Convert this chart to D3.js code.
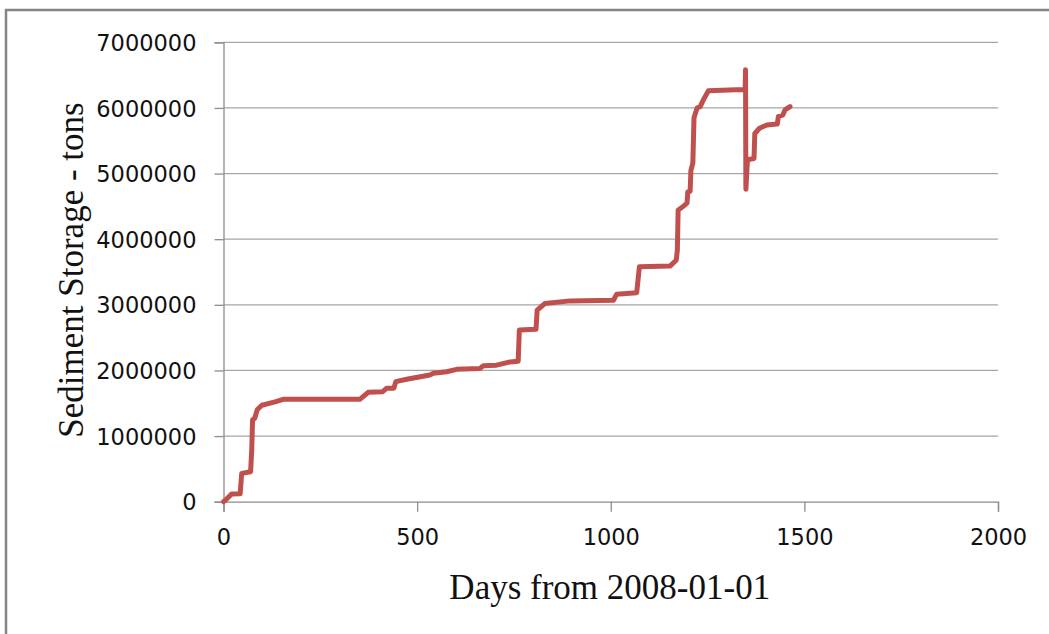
<!DOCTYPE html>
<html>
<head>
<meta charset="utf-8">
<script src="https://cdn.jsdelivr.net/npm/d3@7"></script>
<style>
  html, body { margin: 0; padding: 0; background: #fff; }
  svg { display: block; }
</style>
</head>
<body>
<svg id="chart" width="1049" height="634"></svg>
<script>
// ---- data ----
const days = [0, 8, 21, 43, 47, 70, 73, 75, 81, 87, 99, 133, 154, 352, 374, 411, 421, 440, 445, 473,
  533, 542, 576, 602, 662, 671, 705, 740, 761, 764, 807, 810, 830, 895, 1007, 1015, 1067, 1074,
  1153, 1169, 1172, 1174, 1187, 1197, 1199, 1205, 1207, 1212, 1215, 1223, 1231, 1239, 1252,
  1342, 1347, 1348, 1349, 1353, 1370, 1372, 1384, 1403, 1430, 1433, 1444, 1450, 1463];
const storage = [0, 40000, 117000, 120000, 432000, 457000, 800000, 1245000, 1275000, 1400000, 1470000,
  1520000, 1560000, 1560000, 1667000, 1676000, 1727000, 1730000, 1830000, 1865000,
  1930000, 1956000, 1980000, 2017000, 2030000, 2070000, 2080000, 2130000, 2140000, 2616000,
  2627000, 2920000, 3020000, 3060000, 3070000, 3160000, 3185000, 3580000,
  3590000, 3680000, 3830000, 4440000, 4500000, 4550000, 4720000, 4730000, 5050000, 5160000,
  5850000, 6000000, 6020000, 6120000, 6260000,
  6280000, 6290000, 6580000, 4760000, 5210000, 5230000, 5610000, 5690000, 5740000, 5755000,
  5870000, 5890000, 5970000, 6020000];
const xTicks = [0, 500, 1000, 1500, 2000];
const yTicks = [0, 1000000, 2000000, 3000000, 4000000, 5000000, 6000000, 7000000];
const xTitle = "Days from 2008-01-01";
const yTitle = "Sediment Storage - tons";

(function () {
const points = days.map((d, i) => ({ d, v: storage[i] }));

const svg = d3.select("#chart");
const pLeft = 223.5, pRight = 998, pTop = 42.3, pBottom = 501.7;

const x = d3.scaleLinear().domain([0, 2000]).range([pLeft, pRight]);
const y = d3.scaleLinear().domain([0, 7000000]).range([pBottom, pTop]);

// outer frame
svg.append("rect")
  .attr("x", 6).attr("y", 10).attr("width", 1100).attr("height", 700)
  .attr("fill", "#fff").attr("stroke", "#858585").attr("stroke-width", 2.5);

// gridlines
svg.append("g").selectAll("line").data(yTicks.filter(t => t > 0)).join("line")
  .attr("x1", pLeft).attr("x2", pRight)
  .attr("y1", d => y(d)).attr("y2", d => y(d))
  .attr("stroke", "#a6a6a6").attr("stroke-width", 1.3);

// y axis
const yAxis = svg.append("g")
  .attr("transform", `translate(${pLeft},0)`)
  .call(d3.axisLeft(y).tickValues(yTicks).tickFormat(d3.format("d")).tickSize(9).tickPadding(18));
yAxis.select(".domain").attr("stroke", "#8c8c8c").attr("stroke-width", 1.3);
yAxis.selectAll(".tick line").attr("stroke", "#8c8c8c").attr("stroke-width", 1.3);
yAxis.selectAll(".tick text")
  .attr("font-family", "DejaVu Sans").attr("font-size", 22.5).attr("fill", "#111")
  .attr("dy", "0.36em");

// x axis
const xAxis = svg.append("g")
  .attr("transform", `translate(0,${pBottom})`)
  .call(d3.axisBottom(x).tickValues(xTicks).tickFormat(d3.format("d")).tickSize(10).tickPadding(17));
xAxis.select(".domain").attr("stroke", "#8c8c8c").attr("stroke-width", 1.3);
xAxis.selectAll(".tick line").attr("stroke", "#8c8c8c").attr("stroke-width", 1.3);
xAxis.selectAll(".tick text")
  .attr("font-family", "DejaVu Sans").attr("font-size", 22.5).attr("fill", "#111");

// line
const line = d3.line().x(p => x(p.d)).y(p => y(p.v));
svg.append("path").datum(points)
  .attr("d", line)
  .attr("fill", "none")
  .attr("stroke", "#c0504d")
  .attr("stroke-width", 5)
  .attr("stroke-linejoin", "round")
  .attr("stroke-linecap", "round");

// axis titles
svg.append("text")
  .attr("x", (pLeft + pRight) / 2 - 1).attr("y", 599)
  .attr("text-anchor", "middle")
  .attr("font-family", "Liberation Serif").attr("font-size", 35).attr("fill", "#111")
  .text(xTitle);

svg.append("text")
  .attr("transform", "translate(83,270) rotate(-90)")
  .attr("text-anchor", "middle")
  .attr("font-family", "Liberation Serif").attr("font-size", 35).attr("fill", "#111")
  .text(yTitle);
})();
</script>
</body>
</html>
